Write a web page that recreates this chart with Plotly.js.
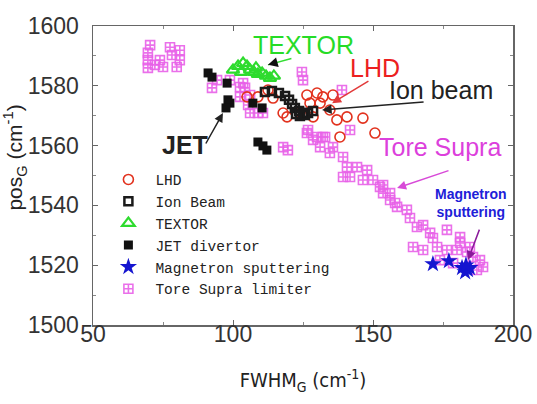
<!DOCTYPE html>
<html><head><meta charset="utf-8">
<script src="https://cdn.plot.ly/plotly-3.0.1.min.js"></script>
<style>html,body{margin:0;padding:0;background:#fff;}#chart{width:537px;height:404px;}</style>
</head><body><div id="chart"></div>
<script>
// ---- data (FWHM_G, pos_G) ----
const lhdX = [105,108.9,112.5,114.3,119.3,126.4,127.5,128.6,131.1,132.1,135.7,137.1,140.7,146.4,138.2,150.7,130,117.9,124,134.6];
const lhdY = [1576.3,1576.3,1578.6,1575.9,1569.6,1576.9,1574.2,1569.6,1574.2,1576.3,1576.9,1568.6,1569.6,1569.2,1562.9,1564.2,1577.6,1570.9,1571.2,1571.9];

const ionX = [111.4,113.9,116.4,118.6,120,121.1,122.1,123.6,125,126.8,128.6,122.5,123.9,125.7];
const ionY = [1577.9,1578.3,1577.6,1576.6,1575.3,1573.9,1572.6,1571.6,1570.9,1570.9,1571.6,1570.6,1569.9,1570.2];

const textorX = [100,101.8,103.6,105,106.1,107.5,108.9,110.4,111.8,113.2,102.9,108.2,114.6];
const textorY = [1585.3,1586.6,1587.6,1586.6,1585.3,1584.6,1583.9,1584.3,1583.3,1582.6,1584.6,1586,1583.3];

const jetX = [91.1,92.5,97.9,98.2,98.9,97.5,107.1,110.4,108.9,112.1,110.7];
const jetY = [1584.3,1582.9,1580.9,1575.3,1574.2,1572.6,1574.2,1572.6,1561.2,1558.5,1559.9];

const magX = [171.4,177.1,181.8,183.9,182.9,184.6,183.2];
const magY = [1520.4,1521.4,1519.1,1518.4,1517.7,1519.1,1520];

const toreX = [70.4,69.6,69.6,69.6,73.9,77.5,78.2,75,81,81,79.9,72.1,
  92.5,94.3,98.9,102.5,104.3,102.5,103.6,106.1,105.4,106.1,108.9,110.7,
  124.6,125,138.9,117.9,119.6,126.8,130,132.9,141.8,
  126.4,128.6,132.1,131.1,135.7,134.6,139.3,140.7,144.3,147.9,139.3,141.8,146.4,150,152.5,153.6,156.1,158.6,
  153.6,156.1,157.9,162.1,163.2,165.7,167.9,170.4,171.4,176.4,181.1,164.3,167.9,172.9,176.4,180,183.6,185.7,188.2,189.3,187.1,178.6,173.9,181.1,184.6];
const toreY = [1593.6,1591,1588.6,1586,1588.6,1592.9,1590.3,1586.3,1591.9,1588.6,1586.3,1587,
  1579.3,1581.9,1581.9,1579.6,1579.3,1576.3,1580.9,1576.9,1573.6,1570.9,1570.9,1570.9,
  1584.6,1581.9,1578.6,1559.5,1558.5,1565.2,1562.9,1562.9,1565.2,
  1564.2,1561.9,1562.9,1559.5,1559.5,1557.5,1556.2,1552.8,1552.8,1551.8,1549.5,1549.5,1548.5,1548.5,1546.2,1544.1,1541.8,1539.5,
  1546.8,1544.1,1540.8,1538.5,1535.8,1532.8,1533.4,1530.8,1529.1,1531.8,1529.4,1526.1,1525.1,1526.1,1525.1,1525.1,1524.4,1522.7,1521.7,1519.4,1518.4,1520.7,1521.7,1527.4,1526.1];

const seriesNames = ['LHD','Ion Beam','TEXTOR','JET divertor','Magnetron sputtering','Tore Supra limiter'];
const xTicks = [50,100,150,200];
const yTicks = [1500,1520,1540,1560,1580,1600];

const traces = [
  {x: toreX, y: toreY, name: seriesNames[5], legendrank: 6, mode:'markers', type:'scatter',
   marker:{symbol:'square-cross-open', size:9, color:'rgba(232,96,232,0.9)', line:{width:1.6}}},
  {x: lhdX, y: lhdY, name: seriesNames[0], legendrank: 1, mode:'markers', type:'scatter',
   marker:{symbol:'circle-open', size:10, color:'#e2321e', line:{width:1.6}}},
  {x: textorX, y: textorY, name: seriesNames[2], legendrank: 3, mode:'markers', type:'scatter',
   marker:{symbol:'triangle-up-open', size:11, color:'#2edb2e', line:{width:2.2}}},
  {x: jetX, y: jetY, name: seriesNames[3], legendrank: 4, mode:'markers', type:'scatter',
   marker:{symbol:'square', size:9, color:'#111111'}},
  {x: ionX, y: ionY, name: seriesNames[1], legendrank: 2, mode:'markers', type:'scatter',
   marker:{symbol:'square-open', size:8, color:'#1a1a1a', line:{width:2.5}}},
  {x: magX, y: magY, name: seriesNames[4], legendrank: 5, mode:'markers', type:'scatter',
   marker:{symbol:'star', size:13, color:'#1515d0'}}
];

const aFont = {family:'Liberation Sans, Arial, sans-serif', size:25};
const annotations = [
  {x:125, y:1593.6, text:'TEXTOR', showarrow:false, font:Object.assign({}, aFont, {color:'#26dc26'})},
  {x:150.7, y:1586, text:'LHD', showarrow:false, font:Object.assign({}, aFont, {color:'#ec2020'})},
  {x:174.3, y:1578.6, text:'Ion beam', showarrow:false, font:Object.assign({}, aFont, {color:'#222222'})},
  {x:173.9, y:1559.5, text:'Tore Supra', showarrow:false, font:Object.assign({}, aFont, {color:'#dc40dc'})},
  {x:82.9, y:1560.2, text:'<b>JET</b>', showarrow:false, font:Object.assign({}, aFont, {color:'#222222'})},
  {x:185, y:1540.8, text:'<b>Magnetron<br>sputtering</b>', showarrow:false, font:{family:'Liberation Sans, Arial, sans-serif', size:14, color:'#2020d8'}},
  // arrows
  {x:112.5, y:1587, ax:121.4, ay:1589.3, axref:'x', ayref:'y', text:'', showarrow:true, arrowhead:0, arrowwidth:1.5, arrowcolor:'#33dd33'},
  {x:112.5, y:1587, ax:115.5, ay:1587.8, axref:'x', ayref:'y', text:'', showarrow:true, arrowhead:2, arrowsize:1.3, arrowwidth:1.5, arrowcolor:'#111'},
  {x:135.4, y:1574.2, ax:148.9, ay:1581.9, axref:'x', ayref:'y', text:'', showarrow:true, arrowhead:2, arrowsize:1.2, arrowwidth:1.5, arrowcolor:'#e23a3a'},
  {x:131.8, y:1571.9, ax:168.6, ay:1574.6, axref:'x', ayref:'y', text:'', showarrow:true, arrowhead:2, arrowsize:1.2, arrowwidth:1.6, arrowcolor:'#222'},
  {x:158.6, y:1545.8, ax:177.5, ay:1551.8, axref:'x', ayref:'y', text:'', showarrow:true, arrowhead:2, arrowsize:1.2, arrowwidth:1.5, arrowcolor:'#d84ad8'},
  {x:183.9, y:1521.7, ax:188.2, ay:1532.4, axref:'x', ayref:'y', text:'', showarrow:true, arrowhead:2, arrowsize:1.2, arrowwidth:1.5, arrowcolor:'#8a1a9a'},
  {x:96.4, y:1570.9, ax:90, ay:1560.2, axref:'x', ayref:'y', text:'', showarrow:true, arrowhead:2, arrowsize:1.2, arrowwidth:1.5, arrowcolor:'#222'},
  // y-axis title
  {xref:'paper', yref:'paper', x:(15-93)/420, xanchor:'center', y:0.56, yanchor:'middle', text:'pos<sub>G</sub> (cm<sup>-1</sup>)', textangle:-90, showarrow:false,
   font:{family:'Liberation Sans Narrow, Liberation Sans, sans-serif', size:21, color:'#222'}}
];

const tickFont = {family:'Liberation Sans, Arial, sans-serif', size:23, color:'#333'};
const layout = {
  width:537, height:404,
  margin:{l:93, r:24, t:26, b:79},
  paper_bgcolor:'#fff', plot_bgcolor:'#fff',
  showlegend:true,
  legend:{x:0.02, y:0.54, xanchor:'left', yanchor:'top', bgcolor:'rgba(0,0,0,0)',
          font:{family:'Liberation Mono, DejaVu Sans Mono, monospace', size:14.5, color:'#222'},
          itemwidth:44, tracegroupgap:0, traceorder:'normal'},
  xaxis:{range:[50,200], tickvals:xTicks, ticktext:xTicks.map(String), ticks:'inside', ticklen:5, tickcolor:'#666',
         showline:true, linecolor:'#666', linewidth:1.5, mirror:'ticks', showgrid:false, zeroline:false,
         tickfont:tickFont, ticklabelstandoff:-12,
         minor:{dtick:25, tick0:50, ticks:'inside', ticklen:3, tickcolor:'#888'},
         title:{text:'FWHM<sub>G</sub> (cm<sup>-1</sup>)', standoff:27,
                font:{family:'Liberation Sans Narrow, DejaVu Sans Condensed, sans-serif', size:20, color:'#222'}}},
  yaxis:{range:[1500,1600], tickvals:yTicks, ticktext:yTicks.map(String), ticks:'inside', ticklen:5, tickcolor:'#666',
         showline:true, linecolor:'#666', linewidth:1.5, mirror:'ticks', showgrid:false, zeroline:false,
         tickfont:tickFont, ticklabelstandoff:8,
         minor:{dtick:10, tick0:1500, ticks:'inside', ticklen:3, tickcolor:'#888'}},
  annotations: annotations
};
Plotly.newPlot('chart', traces, layout, {displayModeBar:false, staticPlot:true});
</script>
</body></html>
